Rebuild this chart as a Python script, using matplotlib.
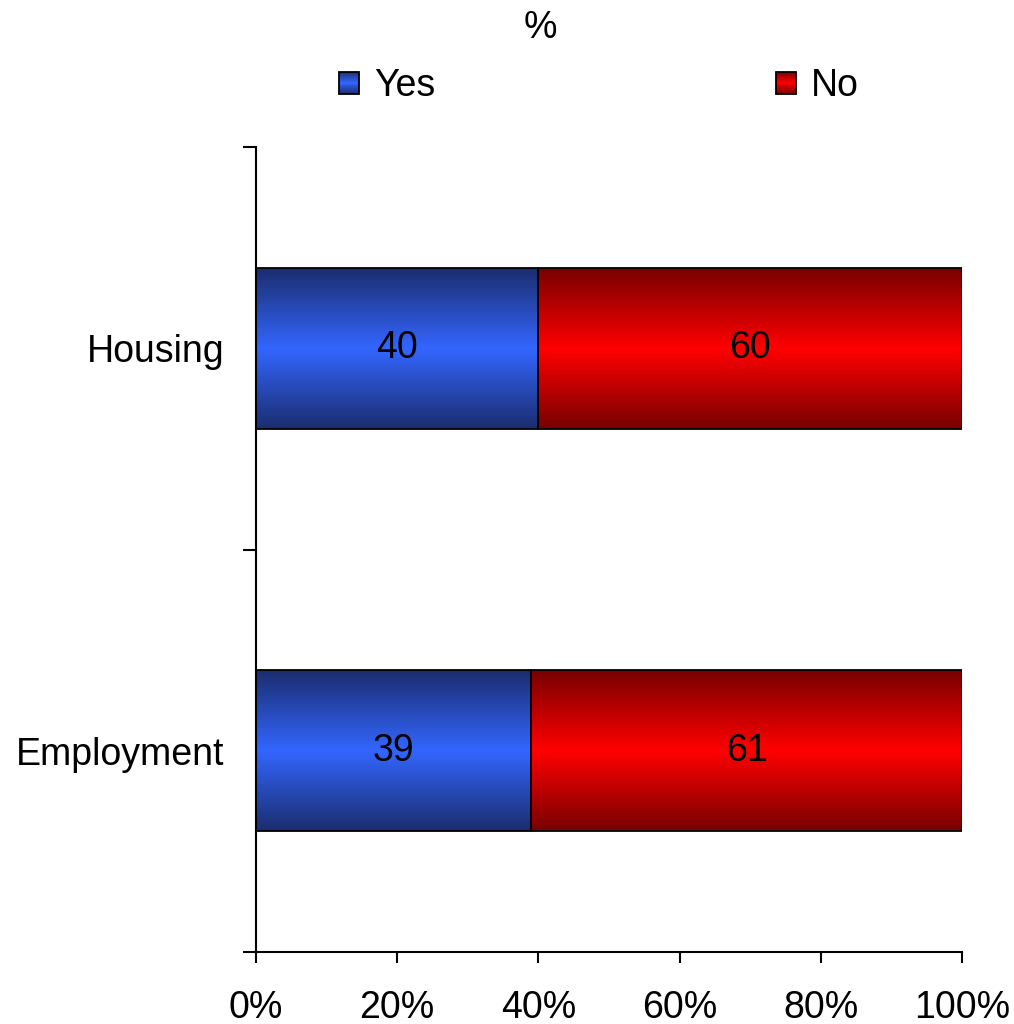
import numpy as np
import matplotlib
matplotlib.use("Agg")
import matplotlib.pyplot as plt
from matplotlib.colors import LinearSegmentedColormap
from matplotlib.patches import Rectangle
from matplotlib.legend_handler import HandlerBase

# Data
categories = ["Employment", "Housing"]
yes_values = [39, 40]
no_values = [61, 60]
series_names = ["Yes", "No"]
x_ticks = [0, 20, 40, 60, 80, 100]
x_tick_labels = ["0%", "20%", "40%", "60%", "80%", "100%"]

plt.rcParams['font.family'] = ['Liberation Sans', 'DejaVu Sans']
FS = 27

blue_cmap = LinearSegmentedColormap.from_list("blue_shade", ["#1b2d6e", "#3366ff", "#1b2d6e"])
red_cmap = LinearSegmentedColormap.from_list("red_shade", ["#780000", "#ff0000", "#780000"])

fig = plt.figure(figsize=(10.14, 10.24), dpi=100)
ax = fig.add_axes([256 / 1014, 1 - 952 / 1024, (962 - 256) / 1014, (952 - 147) / 1024])

gradient = np.linspace(0, 1, 256).reshape(-1, 1)


def shade_bars(bars, cmap):
    """Fill each bar with a vertical gradient clipped to its outline."""
    for bar in bars:
        x0, y0 = bar.get_x(), bar.get_y()
        w, h = bar.get_width(), bar.get_height()
        im = ax.imshow(gradient, cmap=cmap, aspect='auto', origin='lower',
                       extent=(x0, x0 + w, y0, y0 + h), zorder=1,
                       interpolation='bilinear')
        im.set_clip_path(bar)


y_pos = np.arange(len(categories)) + 0.5
bar_h = 0.4

yes_bars = ax.barh(y_pos, yes_values, height=bar_h, facecolor='none',
                   edgecolor='black', linewidth=1.3, zorder=2)
no_bars = ax.barh(y_pos, no_values, left=yes_values, height=bar_h, facecolor='none',
                  edgecolor='black', linewidth=1.3, zorder=2)
shade_bars(yes_bars, blue_cmap)
shade_bars(no_bars, red_cmap)

ax.bar_label(yes_bars, labels=[str(v) for v in yes_values], label_type='center', fontsize=FS)
ax.bar_label(no_bars, labels=[str(v) for v in no_values], label_type='center', fontsize=FS)

ax.set_xlim(0, 100)
ax.set_ylim(0, len(categories))

# Axes styling
for side in ("top", "right"):
    ax.spines[side].set_visible(False)
for side in ("left", "bottom"):
    ax.spines[side].set_linewidth(1.5)

ax.set_xticks(x_ticks)
ax.set_xticklabels(x_tick_labels, fontsize=FS)
ax.tick_params(axis='x', direction='out', length=8, width=1.5, pad=19)

ax.set_yticks(np.arange(len(categories) + 1))
ax.set_yticklabels([])
ax.set_yticks(y_pos, minor=True)
ax.set_yticklabels(categories, minor=True, fontsize=FS)
ax.tick_params(axis='y', which='major', direction='out', length=9.5, width=1.5)
ax.tick_params(axis='y', which='minor', length=0, pad=23)


class GradientSquare(HandlerBase):
    def __init__(self, cmap):
        super().__init__()
        self.cmap = cmap

    def create_artists(self, legend, orig_handle, xdescent, ydescent, width, height,
                       fontsize, trans):
        n = 24
        artists = []
        for i in range(n):
            artists.append(Rectangle((-xdescent, -ydescent + height * i / n), width, height / n,
                                     facecolor=self.cmap((i + 0.5) / n), edgecolor='none',
                                     transform=trans))
        artists.append(Rectangle((-xdescent, -ydescent), width, height, facecolor='none',
                                 edgecolor='black', linewidth=1.3, transform=trans))
        return artists


yes_proxy = Rectangle((0, 0), 1, 1)
no_proxy = Rectangle((0, 0), 1, 1)
fig.legend([yes_proxy, no_proxy], series_names, loc='center',
           bbox_to_anchor=(599 / 1014, 1 - 86 / 1024), ncol=2, frameon=False,
           fontsize=FS, handlelength=0.53, handleheight=0.53, handletextpad=0.4,
           columnspacing=9.1, borderpad=0, borderaxespad=0,
           handler_map={yes_proxy: GradientSquare(blue_cmap),
                        no_proxy: GradientSquare(red_cmap)})

fig.text(540 / 1014, 1 - 28 / 1024, "%", ha='center', va='center', fontsize=FS)

fig.savefig("out.png", dpi=100)
